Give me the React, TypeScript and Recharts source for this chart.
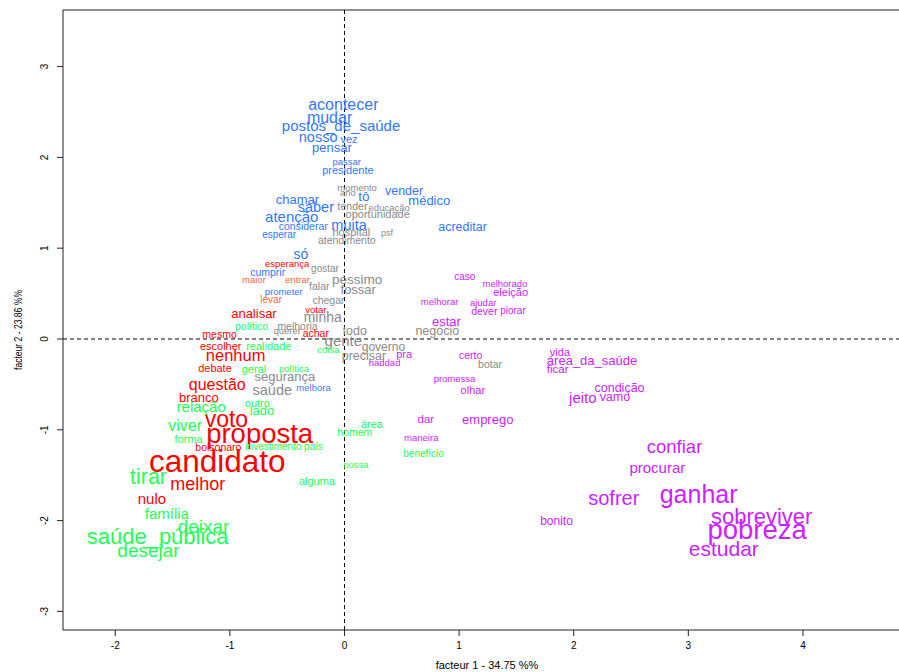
import { ScatterChart, Scatter, XAxis, YAxis, ReferenceLine } from 'recharts';

// [word, facteur 1, facteur 2, cex]
type Word = [string, number, number, number];

const FONT = '"Liberation Sans", Arial, Helvetica, sans-serif';

const X_MIN = -2.456;
const X_MAX = 4.943;
const Y_MIN = -3.205;
const Y_MAX = 3.623;

const xTicks = [-2, -1, 0, 1, 2, 3, 4];
const yTicks = [-3, -2, -1, 0, 1, 2, 3];

const xLabel = 'facteur  1  - 34.75 %%';
const yLabel = 'facteur  2  - 23.86 %%';

const blueWords: Word[] = [
  ['acontecer', -0.01, 2.58, 1.6],
  ['mudar', -0.13, 2.44, 1.6],
  ['postos_de_saúde', -0.03, 2.35, 1.5],
  ['nosso', -0.23, 2.22, 1.45],
  ['vez', 0.04, 2.2, 1.1],
  ['pensar', -0.11, 2.11, 1.3],
  ['passar', 0.02, 1.95, 0.95],
  ['presidente', 0.03, 1.86, 1.1],
  ['chamar', -0.41, 1.54, 1.3],
  ['saber', -0.25, 1.45, 1.45],
  ['atenção', -0.46, 1.35, 1.5],
  ['considerar', -0.36, 1.24, 1.05],
  ['esperar', -0.57, 1.15, 1.0],
  ['tô', 0.17, 1.57, 1.35],
  ['vender', 0.52, 1.63, 1.25],
  ['médico', 0.74, 1.53, 1.3],
  ['acreditar', 1.03, 1.23, 1.25],
  ['muita', 0.04, 1.26, 1.45],
  ['só', -0.38, 0.94, 1.4],
  ['cumprir', -0.67, 0.74, 1.05],
  ['prometer', -0.53, 0.52, 0.95],
  ['melhora', -0.27, -0.53, 0.95],
];

const grayWords: Word[] = [
  ['momento', 0.11, 1.67, 0.95],
  ['ano', 0.03, 1.61, 0.95],
  ['tender', 0.07, 1.46, 1.05],
  ['educação', 0.39, 1.45, 0.95],
  ['oportunidade', 0.29, 1.38, 1.1],
  ['hospital', 0.06, 1.18, 1.1],
  ['psf', 0.37, 1.17, 0.9],
  ['atendimento', 0.02, 1.09, 1.05],
  ['gostar', -0.17, 0.78, 1.0],
  ['péssimo', 0.11, 0.65, 1.35],
  ['falar', -0.22, 0.58, 1.05],
  ['fossar', 0.12, 0.54, 1.3],
  ['chegar', -0.14, 0.43, 1.05],
  ['minha', -0.19, 0.24, 1.4],
  ['melhoria', -0.41, 0.14, 1.05],
  ['querer', -0.5, 0.09, 0.95],
  ['todo', 0.09, 0.09, 1.25],
  ['negócio', 0.81, 0.09, 1.25],
  ['gente', -0.01, -0.02, 1.5],
  ['governo', 0.34, -0.09, 1.2],
  ['precisar', 0.17, -0.19, 1.25],
  ['segurança', -0.52, -0.41, 1.3],
  ['saúde', -0.63, -0.56, 1.45],
  ['botar', 1.27, -0.28, 1.05],
];

const redWords: Word[] = [
  ['esperança', -0.5, 0.83, 0.95],
  ['votar', -0.25, 0.33, 0.95],
  ['analisar', -0.79, 0.28, 1.3],
  ['mesmo', -1.09, 0.06, 1.05],
  ['achar', -0.25, 0.07, 1.05],
  ['escolher', -1.08, -0.08, 1.1],
  ['nenhum', -0.95, -0.18, 1.65],
  ['debate', -1.13, -0.32, 1.1],
  ['questão', -1.11, -0.5, 1.6],
  ['branco', -1.27, -0.65, 1.3],
  ['voto', -1.03, -0.88, 2.3],
  ['proposta', -0.74, -1.04, 2.75],
  ['bolsonaro', -1.1, -1.19, 1.05],
  ['candidato', -1.11, -1.34, 3.15],
  ['melhor', -1.28, -1.6, 1.8],
  ['nulo', -1.68, -1.76, 1.5],
];

const orangeWords: Word[] = [
  ['maior', -0.79, 0.65, 0.95],
  ['entrar', -0.41, 0.66, 0.95],
  ['levar', -0.64, 0.44, 1.0],
];

const greenWords: Word[] = [
  ['político', -0.81, 0.14, 1.05],
  ['realidade', -0.66, -0.08, 1.1],
  ['coisa', -0.14, -0.12, 0.95],
  ['geral', -0.79, -0.33, 1.1],
  ['política', -0.44, -0.33, 0.95],
  ['outro', -0.76, -0.7, 1.1],
  ['relação', -1.25, -0.74, 1.5],
  ['lado', -0.72, -0.79, 1.3],
  ['viver', -1.39, -0.95, 1.6],
  ['forma', -1.36, -1.1, 1.1],
  ['investimento', -0.62, -1.18, 1.0],
  ['país', -0.27, -1.18, 1.0],
  ['tirar', -1.71, -1.52, 2.15],
  ['alguma', -0.24, -1.56, 1.1],
  ['família', -1.55, -1.92, 1.5],
  ['deixar', -1.23, -2.07, 1.9],
  ['saúde_pública', -1.63, -2.18, 2.2],
  ['desejar', -1.71, -2.33, 1.9],
  ['área', 0.24, -0.94, 1.1],
  ['homem', 0.09, -1.02, 1.05],
  ['nossa', 0.1, -1.38, 0.95],
  ['benefício', 0.69, -1.26, 1.0],
];

const magentaWords: Word[] = [
  ['caso', 1.05, 0.69, 1.0],
  ['melhorado', 1.4, 0.61, 0.95],
  ['eleição', 1.45, 0.52, 1.1],
  ['melhorar', 0.83, 0.41, 0.95],
  ['ajudar', 1.21, 0.4, 0.95],
  ['dever', 1.22, 0.31, 1.05],
  ['piorar', 1.47, 0.31, 1.0],
  ['estar', 0.89, 0.19, 1.3],
  ['pra', 0.52, -0.17, 1.1],
  ['haddad', 0.35, -0.26, 0.95],
  ['certo', 1.1, -0.18, 1.05],
  ['promessa', 0.96, -0.43, 0.95],
  ['olhar', 1.12, -0.56, 1.1],
  ['dar', 0.71, -0.88, 1.15],
  ['emprego', 1.25, -0.89, 1.3],
  ['maneira', 0.67, -1.08, 0.95],
  ['vida', 1.88, -0.14, 1.1],
  ['área_da_saúde', 2.16, -0.24, 1.3],
  ['ficar', 1.86, -0.33, 1.15],
  ['condição', 2.4, -0.54, 1.25],
  ['vamo', 2.36, -0.64, 1.25],
  ['jeito', 2.08, -0.65, 1.5],
  ['confiar', 2.88, -1.18, 1.85],
  ['procurar', 2.73, -1.41, 1.5],
  ['sofrer', 2.35, -1.75, 2.0],
  ['ganhar', 3.09, -1.71, 2.5],
  ['bonito', 1.85, -2.0, 1.2],
  ['sobreviver', 3.64, -1.96, 2.2],
  ['pobreza', 3.6, -2.1, 2.75],
  ['estudar', 3.31, -2.31, 2.1],
];

const groups = [
  { name: 'gray', color: '#8a8a8a', words: grayWords },
  { name: 'blue', color: '#3377ff', words: blueWords },
  { name: 'orange', color: '#ff6633', words: orangeWords },
  { name: 'red', color: '#ff0000', words: redWords },
  { name: 'green', color: '#22ff55', words: greenWords },
  { name: 'magenta', color: '#cc22ff', words: magentaWords },
];

const toPoints = (words: Word[]) =>
  words.map(([label, x, y, cex]) => ({ label, x, y, cex }));

const wordShape = (color: string) => (props: any) => {
  const { cx, cy, payload } = props;
  if (cx == null || cy == null) return <g />;
  return (
    <text
      x={cx}
      y={cy}
      textAnchor="middle"
      dominantBaseline="central"
      fontFamily={FONT}
      fontSize={payload.cex * 10}
      fill={color}
    >
      {payload.label}
    </text>
  );
};

const YTick = (props: any) => {
  const { y, payload } = props;
  return (
    <text
      x={48}
      y={y}
      transform={`rotate(-90 48 ${y})`}
      textAnchor="middle"
      fontFamily={FONT}
      fontSize={10}
      fill="#000"
    >
      {payload.value}
    </text>
  );
};

export default function App() {
  // fixed so the wider-than-window plot never adds scrollbars
  return (
    <div
      style={{
        position: 'fixed',
        top: 0,
        left: 0,
        width: 899,
        height: 672,
        overflow: 'hidden',
        background: '#fff',
      }}
    >
      <ScatterChart width={912} height={672} margin={{ top: 10, right: 1, bottom: 0, left: 0 }}>
        <XAxis
          type="number"
          dataKey="x"
          domain={[X_MIN, X_MAX]}
          ticks={xTicks}
          allowDataOverflow
          height={42}
          tickSize={6}
          tickMargin={6}
          stroke="#222"
          tick={{ fontSize: 10, fill: '#000', fontFamily: FONT }}
          label={() => (
            <text x={487} y={665} textAnchor="middle" dominantBaseline="central" fontFamily={FONT} fontSize={11} fill="#000">
              {xLabel}
            </text>
          )}
        />
        <YAxis
          type="number"
          dataKey="y"
          domain={[Y_MIN, Y_MAX]}
          ticks={yTicks}
          allowDataOverflow
          width={63}
          tickSize={6}
          stroke="#222"
          tick={<YTick />}
          label={() => (
            <text
              x={18}
              y={330}
              transform="rotate(-90 18 330)"
              textAnchor="middle"
              dominantBaseline="central"
              fontFamily={FONT}
              fontSize={10}
              textLength={80}
              lengthAdjust="spacingAndGlyphs"
              fill="#000"
            >
              {yLabel}
            </text>
          )}
        />
        <ReferenceLine y={Y_MAX} stroke="#222" strokeWidth={1.2} />
        <ReferenceLine x={0} stroke="#000" strokeDasharray="4 3" />
        <ReferenceLine y={0} stroke="#000" strokeDasharray="4 3" />
        {groups.map((g) => (
          <Scatter
            key={g.name}
            name={g.name}
            data={toPoints(g.words)}
            shape={wordShape(g.color)}
            isAnimationActive={false}
          />
        ))}
      </ScatterChart>
    </div>
  );
}
